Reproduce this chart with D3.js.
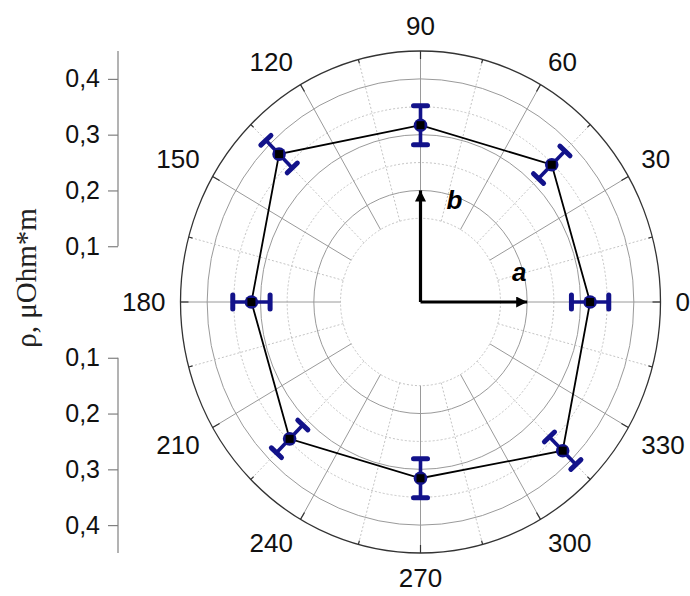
<!DOCTYPE html>
<html>
<head>
<meta charset="utf-8">
<script src="https://cdn.jsdelivr.net/npm/d3@7"></script>
<style>
  html, body { margin: 0; padding: 0; background: #fff; }
  svg { display: block; }
</style>
</head>
<body>
<svg id="chart" width="690" height="596"></svg>
<script>
// Resistivity vs. in-plane angle (polar plot)
const angles = [0, 45, 90, 135, 180, 225, 270, 315];
const rho = [0.318, 0.348, 0.317, 0.375, 0.317, 0.347, 0.316, 0.377];
const rhoErr = [0.035, 0.035, 0.035, 0.035, 0.035, 0.035, 0.035, 0.035];

const angleTicks = [0, 30, 60, 90, 120, 150, 180, 210, 240, 270, 300, 330];
const radialMajor = [0.1, 0.2, 0.3, 0.4];
const radialMinor = [0.15, 0.25, 0.35, 0.45];
const gridSolid = [0.2, 0.3, 0.4];
const gridDotted = [0.15, 0.25, 0.35];
const rMin = 0.15, rMax = 0.45;
const axisTitle = "ρ, μOhm*m";

const svg = d3.select("#chart");
const cx = 420.5, cy = 302;

const rX = d3.scaleLinear().domain([0, rMax]).range([0, 240]);
const rY = d3.scaleLinear().domain([0, rMax]).range([0, 251]);
const rad = d => d * Math.PI / 180;
function pt(v, deg) {
  const a = rad(deg);
  return [cx + rX(v) * Math.cos(a), cy - rY(v) * Math.sin(a)];
}

const grid = svg.append("g");

// concentric grid
grid.selectAll("ellipse.dot").data(gridDotted).join("ellipse")
  .attr("cx", cx).attr("cy", cy)
  .attr("rx", d => rX(d)).attr("ry", d => rY(d))
  .attr("fill", "none").attr("stroke", "#c4c4c4")
  .attr("stroke-width", 1).attr("stroke-dasharray", "2,2");
grid.selectAll("ellipse.sol").data(gridSolid).join("ellipse")
  .attr("cx", cx).attr("cy", cy)
  .attr("rx", d => rX(d)).attr("ry", d => rY(d))
  .attr("fill", "none").attr("stroke", "#9a9a9a").attr("stroke-width", 1);

// radial spokes
const spokesMinor = d3.range(15, 360, 30);
grid.selectAll("line.sm").data(spokesMinor).join("line")
  .attr("x1", d => pt(rMin, d)[0]).attr("y1", d => pt(rMin, d)[1])
  .attr("x2", d => pt(rMax, d)[0]).attr("y2", d => pt(rMax, d)[1])
  .attr("stroke", "#c4c4c4").attr("stroke-width", 1).attr("stroke-dasharray", "2,2");
grid.selectAll("line.sM").data(angleTicks).join("line")
  .attr("x1", d => pt(rMin, d)[0]).attr("y1", d => pt(rMin, d)[1])
  .attr("x2", d => pt(rMax, d)[0]).attr("y2", d => pt(rMax, d)[1])
  .attr("stroke", "#9a9a9a").attr("stroke-width", 1);

// outer boundary
grid.append("ellipse")
  .attr("cx", cx).attr("cy", cy)
  .attr("rx", rX(rMax)).attr("ry", rY(rMax))
  .attr("fill", "none").attr("stroke", "#333").attr("stroke-width", 1.3);

// angular ticks on the boundary (pointing inward)
function tickLine(deg, len) {
  const a = rad(deg);
  const [x, y] = pt(rMax, deg);
  return [x, y, x - len * Math.cos(a), y + len * Math.sin(a)];
}
grid.selectAll("line.tk").data(d3.range(0, 360, 15)).join("line")
  .each(function (d) {
    const t = tickLine(d, d % 30 === 0 ? 8 : 4);
    d3.select(this).attr("x1", t[0]).attr("y1", t[1]).attr("x2", t[2]).attr("y2", t[3]);
  })
  .attr("stroke", "#333").attr("stroke-width", 1.2);

// angular labels: label box placed just outside the boundary
const labG = svg.append("g")
  .attr("font-family", "Arial, 'Liberation Sans', sans-serif")
  .attr("font-size", 26).attr("fill", "#111");
const sgn = v => (Math.abs(v) < 1e-6 ? 0 : Math.sign(v));
labG.selectAll("text").data(angleTicks).join("text")
  .text(d => d)
  .attr("text-anchor", "middle")
  .attr("dy", "0.36em")
  .each(function (d) {
    const w = this.getComputedTextLength();
    const a = rad(d), g = 15, hh = 10;
    const c = Math.cos(a), s = Math.sin(a);
    const x = cx + (rX(rMax) + g) * c + (w / 2) * sgn(c);
    const y = cy - (rY(rMax) + g) * s - hh * sgn(s);
    d3.select(this).attr("x", x).attr("y", y);
  });

// crystal axes a, b
const arrowG = svg.append("g");
const defs = svg.append("defs");
defs.append("marker").attr("id", "ah")
  .attr("viewBox", "0 0 10 10").attr("refX", 10).attr("refY", 5)
  .attr("markerUnits", "userSpaceOnUse")
  .attr("markerWidth", 18).attr("markerHeight", 11).attr("orient", "auto")
  .append("path").attr("d", "M0,0 L10,5 L0,10 Z").attr("fill", "#000");
const axesDirs = [{ name: "a", deg: 0, v: 0.2 }, { name: "b", deg: 90, v: 0.2 }];
arrowG.selectAll("line").data(axesDirs).join("line")
  .attr("x1", cx).attr("y1", cy)
  .attr("x2", d => pt(d.v, d.deg)[0]).attr("y2", d => pt(d.v, d.deg)[1])
  .attr("stroke", "#000").attr("stroke-width", 3.2)
  .attr("marker-end", "url(#ah)");
arrowG.selectAll("text").data(axesDirs).join("text")
  .text(d => d.name)
  .attr("font-family", "Arial, 'Liberation Sans', sans-serif")
  .attr("font-size", 26).attr("font-weight", "bold").attr("font-style", "italic")
  .attr("x", d => d.deg === 0 ? pt(d.v, d.deg)[0] - 8 : pt(d.v, d.deg)[0] + 34)
  .attr("y", d => d.deg === 0 ? pt(d.v, d.deg)[1] - 21 : pt(d.v, d.deg)[1] + 19)
  .attr("text-anchor", "middle");

// data polygon
const pts = angles.map((a, i) => pt(rho[i], a));
svg.append("path")
  .attr("d", d3.line()(pts) + "Z")
  .attr("fill", "none").attr("stroke", "#000").attr("stroke-width", 1.8);

// error bars
const navy = "#12128a";
const eb = svg.append("g");
angles.forEach((a, i) => {
  const p1 = pt(rho[i] - rhoErr[i], a), p2 = pt(rho[i] + rhoErr[i], a);
  const dx = p2[0] - p1[0], dy = p2[1] - p1[1], L = Math.hypot(dx, dy);
  const ux = -dy / L, uy = dx / L, c = 7;
  eb.append("line").attr("x1", p1[0]).attr("y1", p1[1]).attr("x2", p2[0]).attr("y2", p2[1])
    .attr("stroke", navy).attr("stroke-width", 3.6);
  [p1, p2].forEach(p => {
    eb.append("line")
      .attr("x1", p[0] - ux * c).attr("y1", p[1] - uy * c)
      .attr("x2", p[0] + ux * c).attr("y2", p[1] + uy * c)
      .attr("stroke", navy).attr("stroke-width", 5).attr("stroke-linecap", "round");
  });
});

// markers
const mk = svg.append("g");
mk.selectAll("circle").data(pts).join("circle")
  .attr("cx", d => d[0]).attr("cy", d => d[1]).attr("r", 6.8).attr("fill", navy);
mk.selectAll("rect").data(pts).join("rect")
  .attr("x", d => d[0] - 4).attr("y", d => d[1] - 4)
  .attr("width", 8).attr("height", 8).attr("fill", "#000");

// radial value axis on the left (upper and lower halves)
const axX = 118;
const fmt = d => d3.format(".1f")(d).replace(".", ",");
const yUp = d3.scaleLinear().domain([0, rMax]).range([cy, cy - rY(rMax)]);
const yDn = d3.scaleLinear().domain([0, rMax]).range([cy, cy + rY(rMax)]);
[yUp, yDn].forEach(sc => {
  const g = svg.append("g").attr("transform", `translate(${axX},0)`);
  g.append("line").attr("x1", 0).attr("x2", 0)
    .attr("y1", sc(0.1)).attr("y2", sc(rMax))
    .attr("stroke", "#808080").attr("stroke-width", 1.2);
  g.call(d3.axisLeft(sc).tickValues(radialMinor).tickSize(5).tickFormat(""))
    .call(s => s.select(".domain").remove());
  g.call(d3.axisLeft(sc).tickValues(radialMajor).tickSize(10).tickPadding(8).tickFormat(fmt))
    .call(s => s.select(".domain").remove());
  g.selectAll(".tick line").attr("stroke", "#808080").attr("stroke-width", 1.2);
  g.selectAll(".tick text")
    .attr("font-family", "Arial, 'Liberation Sans', sans-serif")
    .attr("font-size", 25).attr("fill", "#111");
});

// axis title
svg.append("text")
  .attr("transform", `translate(36,278) rotate(-90)`)
  .attr("text-anchor", "middle")
  .attr("font-family", "'Liberation Serif', 'Times New Roman', serif")
  .attr("font-size", 29).attr("fill", "#222")
  .text(axisTitle);
</script>
</body>
</html>
